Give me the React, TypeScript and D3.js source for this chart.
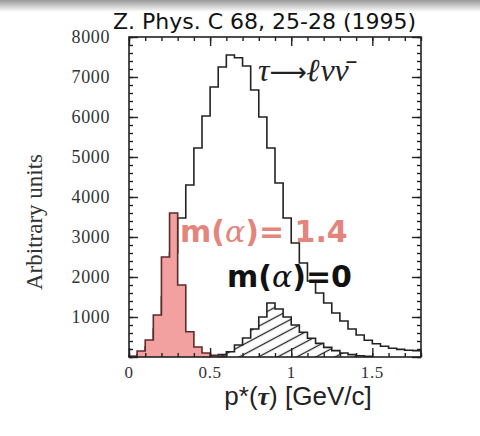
import React, { useRef, useEffect } from 'react';
import * as d3 from 'd3';

// bin width in GeV/c
const binWidth = 0.05;

// open histogram (total), bins start at 0
const mainStart = 0;
const mainValues = [
  10, 60, 250, 700, 1500, 2600, 3475, 4300, 5225, 6025, 6750, 7250, 7550, 7480,
  7275, 6675, 6000, 5225, 4350, 3475, 2850, 2350, 1900, 1600, 1350, 1100, 900,
  700, 550, 420, 330, 270, 220, 190, 170, 160,
];

// m(alpha) = 1.4, filled pink
const pinkStart = 0;
const pinkValues = [20, 150, 425, 1050, 2500, 3600, 1800, 630, 250, 100, 40, 15];

// m(alpha) = 0, hatched
const hatchStart = 0.45;
const hatchValues = [
  15, 30, 60, 130, 300, 475, 700, 1000, 1350, 1200, 1000, 800, 620, 470, 340,
  240, 160, 100, 60, 30, 15,
];

const xTickLabels = [0, 0.5, 1, 1.5];
const yTickLabels = [1000, 2000, 3000, 4000, 5000, 6000, 7000, 8000];

const W = 480;
const H = 436;
const plot = { left: 129, right: 421, top: 37, bottom: 357 };

type Pt = [number, number];

const histPoints = (start: number, values: number[]): Pt[] => {
  const pts: Pt[] = [[start, 0]];
  values.forEach((v, i) => pts.push([start + i * binWidth, v]));
  const end = start + values.length * binWidth;
  pts.push([end, values[values.length - 1]]);
  pts.push([end, 0]);
  return pts;
};

const App = () => {
  const ref = useRef<SVGSVGElement | null>(null);

  useEffect(() => {
    if (!ref.current) return;
    const svg = d3.select(ref.current);
    svg.selectAll('*').remove();

    const x = d3.scaleLinear().domain([0, 1.8]).range([plot.left, plot.right]);
    const y = d3.scaleLinear().domain([0, 8000]).range([plot.bottom, plot.top]);

    const defs = svg.append('defs');
    const grad = defs
      .append('linearGradient')
      .attr('id', 'topfade')
      .attr('x1', '0%')
      .attr('y1', '0%')
      .attr('x2', '0%')
      .attr('y2', '100%');
    grad.append('stop').attr('offset', '0%').attr('stop-color', '#9a9a9a');
    grad.append('stop').attr('offset', '100%').attr('stop-color', '#ffffff');

    const hatch = defs
      .append('pattern')
      .attr('id', 'hatch')
      .attr('patternUnits', 'userSpaceOnUse')
      .attr('width', 9)
      .attr('height', 9)
      .attr('patternTransform', 'rotate(-28)');
    hatch
      .append('line')
      .attr('x1', 0)
      .attr('x2', 9)
      .attr('y1', 4.5)
      .attr('y2', 4.5)
      .attr('stroke', '#222')
      .attr('stroke-width', 1.3);

    svg.append('rect').attr('width', W).attr('height', H).attr('fill', '#fff');
    svg.append('rect').attr('width', W).attr('height', 12).attr('fill', 'url(#topfade)');

    const line = d3
      .line<Pt>()
      .x((d) => x(d[0]))
      .y((d) => y(d[1]))
      .curve(d3.curveStepAfter);

    // open histogram
    svg
      .append('path')
      .attr('d', line(histPoints(mainStart, mainValues)))
      .attr('fill', 'none')
      .attr('stroke', '#222')
      .attr('stroke-width', 1.6);

    // hatched histogram
    svg
      .append('path')
      .attr('d', line(histPoints(hatchStart, hatchValues)))
      .attr('fill', 'url(#hatch)')
      .attr('stroke', '#222')
      .attr('stroke-width', 1.6);

    // pink histogram
    svg
      .append('path')
      .attr('d', line(histPoints(pinkStart, pinkValues)))
      .attr('fill', '#f3a0a0')
      .attr('stroke', '#5e2a2a')
      .attr('stroke-width', 1.6);

    // frame
    svg
      .append('rect')
      .attr('x', plot.left)
      .attr('y', plot.top)
      .attr('width', plot.right - plot.left)
      .attr('height', plot.bottom - plot.top)
      .attr('fill', 'none')
      .attr('stroke', '#222')
      .attr('stroke-width', 1.6);

    // inward ticks on all four sides
    const xMinor = d3.range(0, 1.8001, 0.1);
    const yMinor = d3.range(0, 8001, 200);
    const tickSets: [any, number[], number, string][] = [
      [d3.axisBottom(x), xMinor, 4, `translate(0,${plot.bottom})`],
      [d3.axisBottom(x), xTickLabels, 9, `translate(0,${plot.bottom})`],
      [d3.axisTop(x), xMinor, 4, `translate(0,${plot.top})`],
      [d3.axisTop(x), xTickLabels, 9, `translate(0,${plot.top})`],
      [d3.axisLeft(y), yMinor, 4, `translate(${plot.left},0)`],
      [d3.axisLeft(y), [0, ...yTickLabels], 9, `translate(${plot.left},0)`],
      [d3.axisRight(y), yMinor, 4, `translate(${plot.right},0)`],
      [d3.axisRight(y), [0, ...yTickLabels], 9, `translate(${plot.right},0)`],
    ];
    tickSets.forEach(([axis, values, size, tr]) => {
      const g = svg
        .append('g')
        .attr('transform', tr)
        .call(axis.tickValues(values).tickSize(-size).tickFormat(() => ''));
      g.select('.domain').remove();
      g.selectAll('line').attr('stroke', '#222').attr('stroke-width', 1.4);
    });

    // tick labels
    svg
      .append('g')
      .selectAll('text')
      .data(yTickLabels)
      .enter()
      .append('text')
      .attr('x', 110)
      .attr('y', (d) => y(d) + 6)
      .attr('text-anchor', 'end')
      .attr('font-family', 'Liberation Serif, serif')
      .attr('font-size', 18)
      .attr('letter-spacing', 0.6)
      .attr('fill', '#333')
      .text((d) => String(d));

    svg
      .append('g')
      .selectAll('text')
      .data(xTickLabels)
      .enter()
      .append('text')
      .attr('x', (d) => x(d))
      .attr('y', 378)
      .attr('text-anchor', 'middle')
      .attr('font-family', 'Liberation Serif, serif')
      .attr('font-size', 17)
      .attr('letter-spacing', 0.6)
      .attr('fill', '#333')
      .text((d) => String(d));

    // axis titles
    svg
      .append('text')
      .attr('transform', 'translate(42,222) rotate(-90)')
      .attr('text-anchor', 'middle')
      .attr('font-family', 'Liberation Serif, serif')
      .attr('font-size', 23)
      .attr('fill', '#333')
      .text('Arbitrary units');

    const xt = svg
      .append('text')
      .attr('x', 298)
      .attr('y', 405)
      .attr('text-anchor', 'middle')
      .attr('font-family', 'Liberation Sans, Arial, sans-serif')
      .attr('font-size', 26)
      .attr('fill', '#222');
    xt.append('tspan').text('p*(');
    xt.append('tspan')
      .attr('font-family', 'Liberation Serif, serif')
      .attr('font-weight', 'bold')
      .attr('font-style', 'italic')
      .text('τ');
    xt.append('tspan').text(') [GeV/c]');

    // reference
    svg
      .append('text')
      .attr('x', 113)
      .attr('y', 29)
      .attr('font-family', 'DejaVu Sans, sans-serif')
      .attr('font-size', 22)
      .attr('fill', '#111')
      .text('Z. Phys. C 68, 25-28 (1995)');

    // process label
    const proc = svg
      .append('text')
      .attr('x', 258)
      .attr('y', 81)
      .attr('font-family', 'Liberation Serif, serif')
      .attr('font-size', 32)
      .attr('font-style', 'italic')
      .attr('fill', '#222');
    proc.append('tspan').text('τ');
    proc.append('tspan')
      .attr('font-family', 'DejaVu Sans, sans-serif')
      .attr('font-style', 'normal')
      .attr('font-size', 26)
      .text('⟶');
    proc.append('tspan').attr('font-weight', 'bold').text('ℓ');
    proc.append('tspan').text('νν̄');

    // m(alpha) labels
    const addM = (xx: number, yy: number, rest: string, color: string) => {
      const t = svg
        .append('text')
        .attr('x', xx)
        .attr('y', yy)
        .attr('font-family', 'DejaVu Sans, sans-serif')
        .attr('font-weight', 'bold')
        .attr('font-size', 30)
        .attr('fill', color);
      t.append('tspan').text('m(');
      t.append('tspan')
        .attr('font-family', 'DejaVu Serif, serif')
        .attr('font-style', 'italic')
        .attr('font-weight', 'normal')
        .text('α');
      t.append('tspan').text(rest);
    };
    addM(180, 242, ')= 1.4', '#e3857c');
    addM(227, 287, ')=0', '#111');
  }, []);

  return (
    <svg
      ref={ref}
      width={W}
      height={H}
      style={{ position: 'absolute', left: 0, top: 0 }}
    />
  );
};

export default App;
